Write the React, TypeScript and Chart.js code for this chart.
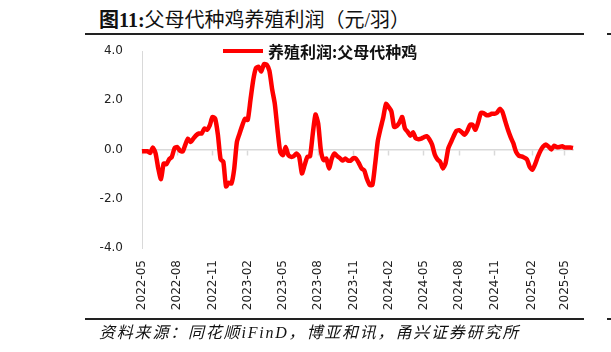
import React, { useEffect, useRef } from "react";
import { Chart, registerables } from "chart.js";

Chart.register(...registerables);

const START_DATE = "2022-05-06";
const WEEK_COUNT = 160;

// weekly dates (categories)
const weeks: string[] = (() => {
  const out: string[] = [];
  const d0 = new Date(START_DATE + "T00:00:00Z").getTime();
  for (let i = 0; i < WEEK_COUNT; i++) {
    out.push(new Date(d0 + i * 7 * 86400000).toISOString().slice(0, 10));
  }
  return out;
})();

const tickLabels = [
  "2022-05", "2022-08", "2022-11", "2023-02", "2023-05", "2023-08", "2023-11",
  "2024-02", "2024-05", "2024-08", "2024-11", "2025-02", "2025-05",
];

const profit = [
  -0.07, -0.07, -0.07, -0.14, 0.08, -0.15, -0.77, -1.2, -0.57, -0.6,
  -0.4, -0.3, 0.05, 0.1, -0.05, -0.08, 0.2, 0.44, 0.3, 0.45,
  0.58, 0.65, 0.65, 0.85, 0.8, 0.98, 1.32, 1.25, 0.6, -0.4,
  -0.5, -1.5, -1.35, -1.38, -0.8, 0.3, 0.65, 0.98, 1.25, 1.2,
  2.0, 2.8, 3.3, 3.36, 3.17, 3.47, 3.44, 3.2, 2.45, 1.85,
  0.8, -0.1, -0.23, 0.1, -0.23, -0.3, -0.27, -0.16, -0.3, -0.97,
  -0.63, -0.3, -0.27, 0.64, 1.42, 1.05, -0.05, -0.43, -0.37, -0.77,
  -0.38, -0.16, -0.27, -0.35, -0.45, -0.37, -0.45, -0.45, -0.35, -0.38,
  -0.55, -0.77, -0.85, -1.2, -1.44, -1.44, -0.6, 0.35, 0.85, 1.3,
  1.85, 1.72, 1.55, 0.92, 0.95, 1.1, 1.32, 0.85, 0.72, 0.56,
  0.7, 0.45, 0.42, 0.44, 0.5, 0.54, 0.42, 0.2, -0.2, -0.4,
  -0.5, -0.77, -0.55, 0.05, 0.3, 0.55, 0.76, 0.78, 0.7, 0.6,
  0.75, 1.0, 1.0, 0.8, 1.1, 1.48, 1.48, 1.4, 1.4, 1.45,
  1.45, 1.5, 1.65, 1.52, 1.15, 0.8, 0.5, 0.25, -0.1, -0.25,
  -0.28, -0.33, -0.4, -0.7, -0.82, -0.6, -0.3, -0.05, 0.12, 0.2,
  0.12, 0.0, 0.15, 0.1, 0.1, 0.13, 0.08, 0.08, 0.08, 0.06,
];

const TITLE = "图11:父母代种鸡养殖利润（元/羽）";
const SERIES_NAME = "养殖利润:父母代种鸡";
const SOURCE = "资料来源：同花顺iFinD，博亚和讯，甬兴证券研究所";

function tickLabelAt(i: number): string {
  const d = weeks[i];
  if (!d) return "";
  const ym = d.slice(0, 7);
  const day = parseInt(d.slice(8, 10), 10);
  if (day <= 7 && tickLabels.includes(ym)) return ym;
  return "";
}

export default function App() {
  const ref = useRef<HTMLCanvasElement | null>(null);

  useEffect(() => {
    if (!ref.current) return;
    const chart = new Chart(ref.current, {
      type: "line",
      data: {
        labels: weeks,
        datasets: [
          {
            label: SERIES_NAME,
            data: profit,
            borderColor: "#ff0000",
            backgroundColor: "#ff0000",
            borderWidth: 4.5,
            pointRadius: 0,
            tension: 0.2,
            xAxisID: "x",
            yAxisID: "y",
          },
        ],
      },
      options: {
        animation: false,
        responsive: false,
        maintainAspectRatio: false,
        layout: { padding: { left: 0, top: 51, right: 38, bottom: 0 } },
        plugins: {
          legend: { display: false },
          title: { display: false },
          tooltip: { enabled: false },
        },
        scales: {
          x: {
            type: "category",
            position: "bottom",
            grid: { display: false, drawTicks: false },
            border: { display: false },
            ticks: {
              autoSkip: false,
              minRotation: 90,
              maxRotation: 90,
              padding: 12,
              color: "#222",
              font: { family: "DejaVu Sans", size: 12 },
              callback: (_v: any, i: number) => tickLabelAt(i),
            },
            afterFit: (s: any) => {
              s.height = 104;
            },
          },
          x2: {
            type: "category",
            axis: "x",
            position: { y: 0 },
            grid: {
              drawOnChartArea: false,
              drawTicks: true,
              tickLength: 5,
              tickWidth: 1.5,
              tickColor: (ctx: any) =>
                tickLabelAt(ctx.index) ? "#d9d9d9" : "rgba(0,0,0,0)",
            },
            border: { display: true, color: "#d9d9d9", width: 1.5 },
            ticks: { display: false, autoSkip: false },
          },
          y: {
            min: -4,
            max: 4,
            grid: { display: false, drawTicks: false },
            border: { display: true, color: "#d9d9d9", width: 1 },
            ticks: {
              stepSize: 2,
              padding: 19,
              color: "#222",
              font: { family: "DejaVu Sans", size: 12 },
              callback: (v: any) => Number(v).toFixed(1),
            },
            afterFit: (s: any) => {
              s.width = 142;
            },
          },
        },
      },
    });
    return () => chart.destroy();
  }, []);

  return (
    <div
      style={{
        position: "fixed",
        left: 0,
        top: 0,
        width: 611,
        height: 352,
        background: "#fff",
        overflow: "hidden",
      }}
    >
      <div
        style={{
          position: "absolute",
          left: 99,
          top: 6,
          height: 28,
          lineHeight: "28px",
          fontSize: 20,
          whiteSpace: "nowrap",
          color: "#111",
          fontFamily: '"Liberation Serif", "Noto Sans CJK SC", serif',
        }}
      >
        <span style={{ fontWeight: "bold" }}>{TITLE.slice(0, 4)}</span>
        <span>{TITLE.slice(4)}</span>
      </div>
      <div style={{ position: "absolute", left: 85, top: 33, width: 499, height: 1.5, background: "#222" }} />
      <div style={{ position: "absolute", left: 607, top: 33, width: 4, height: 1.5, background: "#222" }} />
      <canvas
        ref={ref}
        width={611}
        height={352}
        style={{ position: "absolute", left: 0, top: 0, width: 611, height: 352 }}
      />
      <div style={{ position: "absolute", left: 223, top: 49, width: 40, height: 4, background: "#ff0000" }} />
      <div
        style={{
          position: "absolute",
          left: 268,
          top: 40,
          height: 22,
          lineHeight: "22px",
          fontSize: 16,
          fontWeight: "bold",
          whiteSpace: "nowrap",
          color: "#111",
          fontFamily: '"Noto Sans CJK SC", sans-serif',
        }}
      >
        {SERIES_NAME}
      </div>
      <div style={{ position: "absolute", left: 85, top: 318, width: 499, height: 1.5, background: "#222" }} />
      <div style={{ position: "absolute", left: 607, top: 318, width: 4, height: 1.5, background: "#222" }} />
      <div
        style={{
          position: "absolute",
          left: 99,
          top: 322,
          height: 22,
          lineHeight: "22px",
          fontSize: 16,
          fontStyle: "italic",
          letterSpacing: "1.8px",
          whiteSpace: "nowrap",
          color: "#111",
          fontFamily: '"Liberation Serif", "Noto Sans CJK SC", serif',
        }}
      >
        {SOURCE}
      </div>
    </div>
  );
}
